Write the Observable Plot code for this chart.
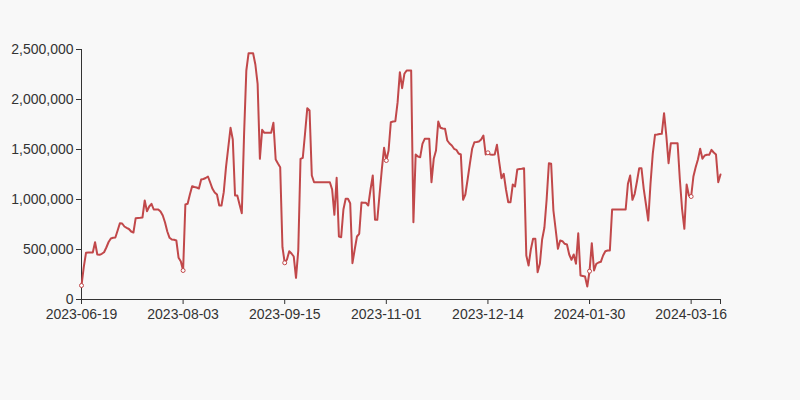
<!DOCTYPE html>
<html>
<head>
<meta charset="utf-8">
<script src="https://cdn.jsdelivr.net/npm/d3@7"></script>
<script src="https://cdn.jsdelivr.net/npm/@observablehq/plot@0.6"></script>
<style>
  html, body { margin: 0; padding: 0; background: #f8f8f8; }
  #chart { width: 800px; height: 400px; }
</style>
</head>
<body>
<div id="chart"></div>
<script>
// Daily values (category axis, one entry per trading day)
const values = [
  140000, 323000, 467000, 470000, 470000, 470000, 573000, 450000, 447000, 457000,
  473000, 520000, 575000, 610000, 617000, 620000, 690000, 763000, 760000, 730000,
  717000, 705000, 680000, 670000, 813000, 815000, 817000, 820000, 990000, 883000,
  930000, 957000, 900000, 900000, 900000, 880000, 840000, 770000, 680000, 617000,
  600000, 597000, 590000, 417000, 380000, 290000, 950000, 957000, 1050000, 1133000,
  1125000, 1120000, 1110000, 1200000, 1205000, 1215000, 1230000, 1170000, 1107000, 1070000,
  1050000, 940000, 940000, 1073000, 1323000, 1520000, 1717000, 1600000, 1040000, 1040000,
  950000, 863000, 1650000, 2290000, 2463000, 2463000, 2463000, 2350000, 2157000, 1407000,
  1697000, 1667000, 1667000, 1667000, 1667000, 1767000, 1400000, 1360000, 1323000, 523000,
  367000, 400000, 483000, 460000, 430000, 217000, 490000, 1407000, 1417000, 1660000,
  1913000, 1890000, 1240000, 1173000, 1173000, 1173000, 1173000, 1173000, 1173000, 1173000,
  1173000, 1100000, 847000, 1217000, 630000, 623000, 900000, 1007000, 1007000, 963000,
  363000, 500000, 630000, 657000, 970000, 967000, 967000, 940000, 1100000, 1240000,
  797000, 797000, 1050000, 1300000, 1517000, 1390000, 1490000, 1773000, 1780000, 1783000,
  1973000, 2273000, 2113000, 2257000, 2290000, 2290000, 2290000, 773000, 1450000, 1430000,
  1423000, 1557000, 1607000, 1607000, 1607000, 1173000, 1407000, 1490000, 1780000, 1717000,
  1710000, 1707000, 1590000, 1560000, 1540000, 1507000, 1497000, 1460000, 1450000, 997000,
  1050000, 1200000, 1357000, 1507000, 1573000, 1575000, 1580000, 1600000, 1640000, 1450000,
  1467000, 1450000, 1447000, 1450000, 1547000, 1373000, 1213000, 1257000, 1100000, 973000,
  973000, 1150000, 1130000, 1300000, 1305000, 1307000, 1313000, 440000, 340000, 500000,
  607000, 607000, 273000, 357000, 600000, 717000, 1000000, 1363000, 1357000, 890000,
  700000, 507000, 590000, 583000, 557000, 550000, 450000, 397000, 450000, 357000,
  663000, 240000, 235000, 230000, 130000, 283000, 563000, 290000, 357000, 370000,
  377000, 440000, 483000, 490000, 490000, 900000, 900000, 900000, 900000, 900000,
  900000, 900000, 1157000, 1240000, 997000, 1057000, 1180000, 1313000, 1313000, 1107000,
  950000, 790000, 1157000, 1457000, 1647000, 1650000, 1655000, 1657000, 1863000, 1640000,
  1363000, 1563000, 1563000, 1563000, 1563000, 1200000, 900000, 707000, 1150000, 1040000,
  1030000, 1230000, 1323000, 1400000, 1507000, 1407000, 1440000, 1447000, 1447000, 1497000,
  1470000, 1450000, 1173000, 1250000
];

// Category positions that carry a label, and their labels
const tickIndex = [0, 45, 90, 135, 180, 225, 270];
const tickLabels = ["2023-06-19", "2023-08-03", "2023-09-15", "2023-11-01", "2023-12-14", "2024-01-30", "2024-03-16"];
const yTicks = [0, 500000, 1000000, 1500000, 2000000, 2500000];

const lineColor = "#c1484a";
const data = values.map((v, i) => ({i, v}));
const markers = data.filter(d => tickIndex.includes(d.i));
const last = values.length - 1;
const labelOf = new Map(tickIndex.map((t, k) => [t, tickLabels[k]]));

const chart = Plot.plot({
  width: 800,
  height: 400,
  marginLeft: 81,
  marginRight: 80,
  marginTop: 49,
  marginBottom: 101,
  style: {background: "transparent", fontFamily: "'Liberation Sans', Arial, sans-serif", fontSize: "14px", color: "#333"},
  x: {type: "linear", domain: [0, last]},
  y: {domain: [0, 2500000]},
  marks: [
    Plot.axisY({ticks: yTicks, tickFormat: d3.format(","), tickSize: 5, tickPadding: 3, label: null, stroke: "#333", fill: "#333", fontSize: 14}),
    Plot.axisX({ticks: [...tickIndex, last], tickFormat: d => labelOf.get(d) ?? "", tickSize: 5, tickPadding: 5, label: null, stroke: "#333", fill: "#333", fontSize: 14}),
    Plot.ruleX([0], {stroke: "#333"}),
    Plot.ruleY([0], {stroke: "#333"}),
    Plot.lineY(data, {x: "i", y: "v", stroke: lineColor, strokeWidth: 2, strokeLinejoin: "round"}),
    Plot.dot(markers, {x: "i", y: "v", r: 2, fill: "#fff", stroke: lineColor, strokeWidth: 1})
  ]
});
document.getElementById("chart").appendChild(chart);
</script>
</body>
</html>
